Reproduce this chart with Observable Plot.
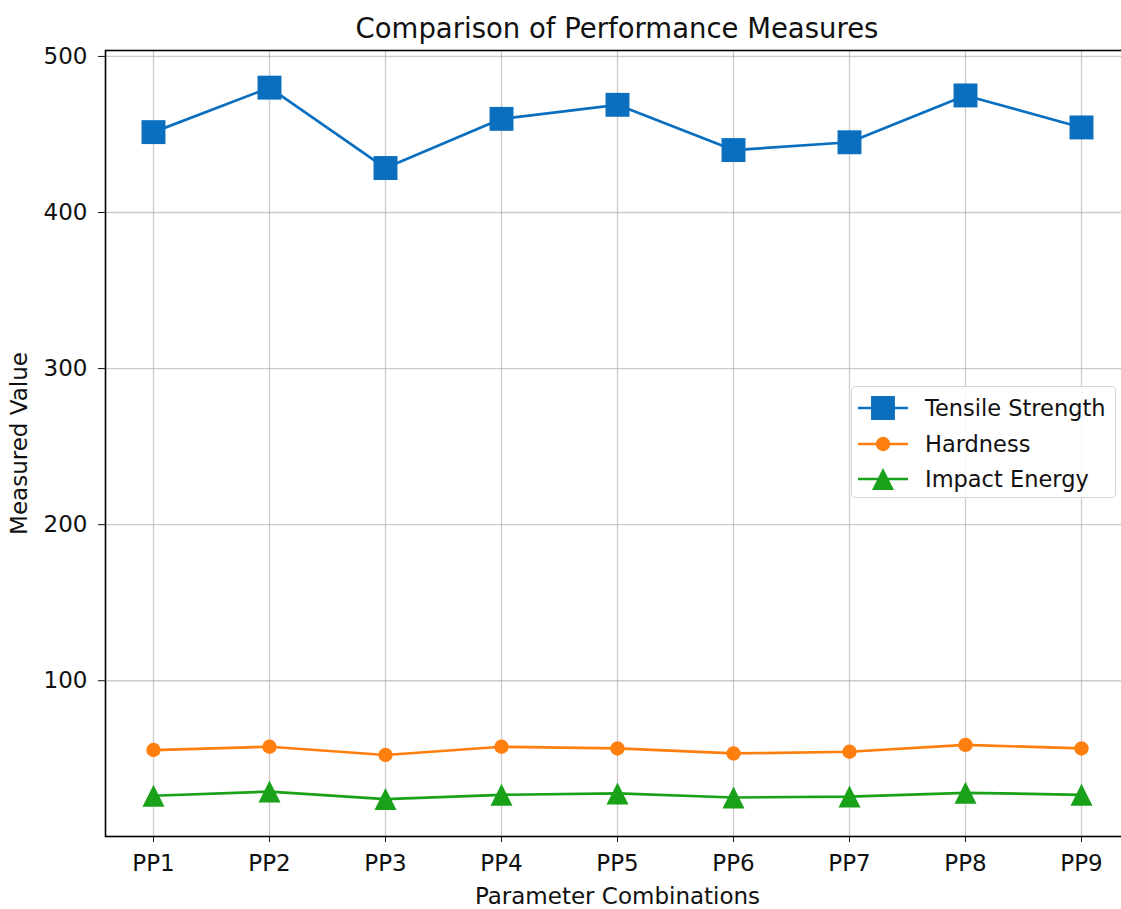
<!DOCTYPE html>
<html>
<head>
<meta charset="utf-8">
<script src="https://cdn.jsdelivr.net/npm/d3@7"></script>
<script src="https://cdn.jsdelivr.net/npm/@observablehq/plot@0.6"></script>
<style>
  html, body { margin: 0; padding: 0; background: #fff; }
  #wrap { position: relative; width: 1121px; height: 909px; overflow: hidden; font-family: "DejaVu Sans", sans-serif; color: #111; }
  #title { position: absolute; left: 617px; top: 12px; transform: translateX(-50%); font-size: 27.5px; white-space: nowrap; line-height: 32px; }
  #legend { position: absolute; left: 851px; top: 386px; width: 265px; height: 112px; box-sizing: border-box;
            border: 1px solid #d6d6d6; border-radius: 4px; background: rgba(255,255,255,0.85); }
  .row { position: absolute; left: 0; height: 30px; display: flex; align-items: center; font-size: 22.5px; white-space: nowrap; }
  .row svg { margin-left: 6px; margin-right: 17px; }
  #chart svg { overflow: hidden; }
</style>
</head>
<body>
<div id="wrap">
  <div id="title"></div>
  <div id="chart"></div>
  <div id="legend"></div>
</div>
<script>
const titleText = "Comparison of Performance Measures";
const xLabel = "Parameter Combinations";
const yLabel = "Measured Value";
const labels = ["PP1", "PP2", "PP3", "PP4", "PP5", "PP6", "PP7", "PP8", "PP9"];
const seriesNames = ["Tensile Strength", "Hardness", "Impact Energy"];
const tensile = [451.5, 480, 428.5, 460, 469, 440, 445, 475, 454.5];
const hardness = [55.6, 57.7, 52.4, 57.7, 56.6, 53.4, 54.5, 58.9, 56.6];
const impact = [26.3, 29.0, 24.2, 26.9, 27.8, 25.2, 25.8, 28.2, 26.9];
const yTicks = [100, 200, 300, 400, 500];
const yDomain = [0.2, 503.8];
const colors = ["#0a6fbf", "#ff7f0e", "#1aa11a"];

const allValues = [tensile, hardness, impact];
const rows = seriesNames.flatMap((s, k) => labels.map((l, i) => ({label: l, value: allValues[k][i], series: s})));

// matplotlib-like triangle (bbox centred, width = height)
const mplTriangle = {
  draw(ctx, size) {
    const s = Math.sqrt(size) / 2;
    ctx.moveTo(0, -s); ctx.lineTo(-s, s); ctx.lineTo(s, s); ctx.closePath();
  }
};
const symbols = ["square", "circle", mplTriangle];
const radii = [13.5, 7.2, 12.4];

document.getElementById("title").textContent = titleText;

const marks = [
  Plot.gridX(labels, {stroke: "#b0b0b0", strokeOpacity: 0.65, strokeWidth: 1.3}),
  Plot.gridY(yTicks, {stroke: "#b0b0b0", strokeOpacity: 0.65, strokeWidth: 1.3}),
];
seriesNames.forEach((s, k) => {
  const data = rows.filter(d => d.series === s);
  marks.push(Plot.line(data, {x: "label", y: "value", stroke: colors[k], strokeWidth: 2.7}));
  marks.push(Plot.dot(data, {x: "label", y: "value", fill: colors[k], stroke: "none", symbol: symbols[k], r: radii[k]}));
});
marks.push(
  Plot.axisX({tickSize: 6, tickPadding: 12, label: xLabel, labelAnchor: "center", labelOffset: 67, labelArrow: "none"}),
  Plot.axisY(yTicks, {tickSize: 7, tickPadding: 11, label: yLabel, labelAnchor: "center", labelOffset: 95, labelArrow: "none"}),
  Plot.frame({stroke: "#000", strokeWidth: 1.6})
);

const chart = Plot.plot({
  width: 1121,
  height: 909,
  marginLeft: 105,
  marginRight: -8,
  marginTop: 50,
  marginBottom: 73,
  style: {fontFamily: "DejaVu Sans, sans-serif", fontSize: "23px", color: "#111", background: "transparent"},
  x: {type: "point", domain: labels, padding: 0.4},
  y: {domain: yDomain},
  marks
});
document.getElementById("chart").appendChild(chart);

// legend
const legend = document.getElementById("legend");
const rowTops = [6, 42, 77];
seriesNames.forEach((s, k) => {
  const row = document.createElement("div");
  row.className = "row";
  row.style.top = rowTops[k] + "px";
  const sw = d3.create("svg").attr("width", 50).attr("height", 30);
  sw.append("line").attr("x1", 0).attr("x2", 50).attr("y1", 15).attr("y2", 15).attr("stroke", colors[k]).attr("stroke-width", 2.7);
  const sym = typeof symbols[k] === "string" ? (symbols[k] === "square" ? d3.symbolSquare : d3.symbolCircle) : symbols[k];
  sw.append("path").attr("transform", "translate(25,15)").attr("fill", colors[k])
    .attr("d", d3.symbol(sym, Math.PI * radii[k] * radii[k])());
  row.appendChild(sw.node());
  const t = document.createElement("span");
  t.textContent = s;
  row.appendChild(t);
  legend.appendChild(row);
});
</script>
</body>
</html>
